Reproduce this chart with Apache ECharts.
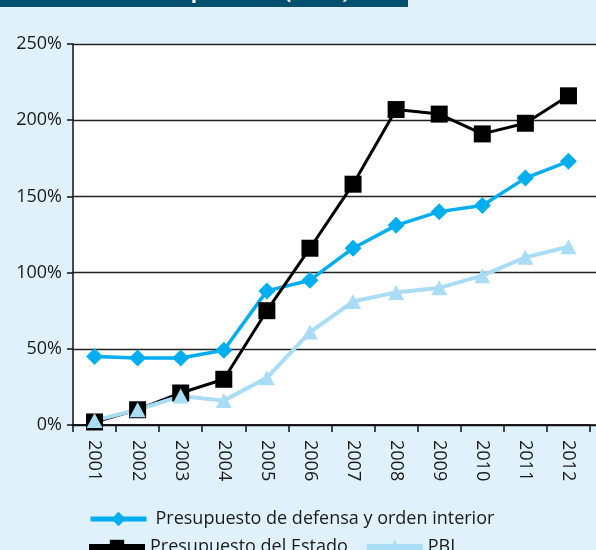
<!DOCTYPE html>
<html>
<head>
<meta charset="utf-8">
<style>
  html, body { margin: 0; padding: 0; background: #dff1fb; }
  #chart { width: 596px; height: 550px; }
</style>
<script src="https://cdn.jsdelivr.net/npm/echarts@6/dist/echarts.min.js"></script>
</head>
<body>
<div id="chart"></div>
<script>
var years = ['2001', '2002', '2003', '2004', '2005', '2006', '2007', '2008', '2009', '2010', '2011', '2012'];
var defensa = [45, 44, 44, 49, 88, 95, 116, 131, 140, 144, 162, 173];
var estado = [2, 10, 21, 30, 75, 116, 158, 207, 204, 191, 198, 216];
var pbi = [3, 10, 19, 16, 31, 61, 81, 87, 90, 98, 110, 117];

var font = '"Open Sans", "DejaVu Sans", sans-serif';
var ink = '#1a1a1a';

var myChart = echarts.init(document.getElementById('chart'));

var option = {
    backgroundColor: '#dff1fb',
    animation: false,
    textStyle: { fontFamily: font },
    graphic: [
        { type: 'rect', shape: { x: 0, y: 0, width: 408, height: 7 }, style: { fill: '#004f6e' }, z: 10 },
        {
            type: 'text', x: 40, y: -18, z: 11,
            style: { text: 'Evolución comparativa (en %)', fill: '#ffffff', font: 'bold 21px ' + font }
        }
    ],
    grid: [
        { left: 73, right: 6, top: 44, bottom: 125, show: false },
        { left: 73, right: 0, top: 44, bottom: 125, show: true, backgroundColor: '#ffffff', borderWidth: 0 }
    ],
    legend: [
        {
            data: ['Presupuesto de defensa y orden interior'],
            left: 88, top: 510, padding: 0,
            itemWidth: 56, itemHeight: 18,
            lineStyle: { width: 5 },
            textStyle: { fontSize: 18, color: ink, fontFamily: font, padding: [0, 0, 0, 4] }
        },
        {
            data: ['Presupuesto del Estado', 'PBI'],
            left: 86, top: 538, padding: 0,
            itemWidth: 56, itemHeight: 18, itemGap: 16,
            lineStyle: { width: 6 },
            textStyle: { fontSize: 18, color: ink, fontFamily: font, padding: [0, 0, 0, 0] }
        }
    ],
    xAxis: [
        {
            type: 'category', gridIndex: 0, data: years, boundaryGap: true,
            axisLine: { show: true, lineStyle: { color: '#111', width: 1.5 } },
            axisTick: { show: true, length: 7, lineStyle: { color: '#111', width: 1.5 } },
            axisLabel: { rotate: -90, fontSize: 18, color: ink, margin: 15, fontFamily: font }
        },
        {
            type: 'category', gridIndex: 1, data: years,
            axisLine: { show: true, lineStyle: { color: '#111', width: 1.5 } },
            axisTick: { show: false }, axisLabel: { show: false }
        }
    ],
    yAxis: [
        {
            type: 'value', gridIndex: 0, min: 0, max: 250, interval: 50,
            axisLine: { show: true, lineStyle: { color: '#111', width: 1.5 } },
            axisTick: { show: true, length: 6, lineStyle: { color: '#111', width: 1.5 } },
            axisLabel: { formatter: '{value}%', fontSize: 18, color: ink, margin: 11, fontFamily: font },
            splitLine: { show: false }
        },
        {
            type: 'value', gridIndex: 1, min: 0, max: 250, interval: 50,
            axisLine: { show: false }, axisTick: { show: false }, axisLabel: { show: false },
            splitLine: { show: true, lineStyle: { color: '#222', width: 1.3 } }
        }
    ],
    series: [
        {
            name: 'Presupuesto de defensa y orden interior',
            type: 'line', data: defensa,
            symbol: 'diamond', symbolSize: [17, 17],
            itemStyle: { color: '#00aeef' },
            lineStyle: { color: '#00aeef', width: 3.5 }
        },
        {
            name: 'Presupuesto del Estado',
            type: 'line', data: estado,
            symbol: 'rect', symbolSize: [17, 17],
            itemStyle: { color: '#000000' },
            lineStyle: { color: '#000000', width: 3 }
        },
        {
            name: 'PBI',
            type: 'line', data: pbi,
            symbol: 'triangle', symbolSize: [16, 15],
            itemStyle: { color: '#a9dcf5' },
            lineStyle: { color: '#a9dcf5', width: 4 }
        }
    ]
};

myChart.setOption(option);
</script>
</body>
</html>
